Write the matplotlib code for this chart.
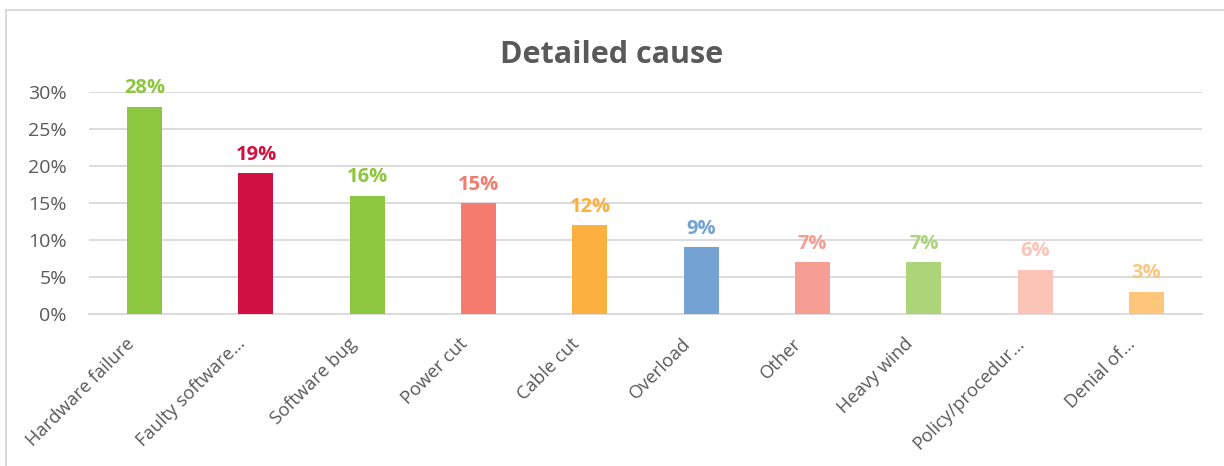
import matplotlib.pyplot as plt
from matplotlib.lines import Line2D
from matplotlib.ticker import PercentFormatter
from matplotlib.transforms import ScaledTranslation

# Share of incidents by detailed cause
causes = ["Hardware failure", "Faulty software…", "Software bug", "Power cut",
          "Cable cut", "Overload", "Other", "Heavy wind", "Policy/procedur…",
          "Denial of…"]
shares = [28, 19, 16, 15, 12, 9, 7, 7, 6, 3]
colors = ["#8DC63F", "#CE1141", "#8DC63F", "#F47B6E", "#FBB040",
          "#74A2D3", "#F79E94", "#AED47A", "#FBC4B7", "#FDC67A"]

plt.rcParams['font.family'] = ['Open Sans', 'DejaVu Sans']
grey = "#595959"
line_grey = "#D9D9D9"

fig = plt.figure(figsize=(12.24, 4.66), dpi=100)
ax = fig.add_axes([89 / 1224, 1 - 314 / 466, (1202 - 89) / 1224, (314 - 92) / 466])

x = range(len(causes))
ax.bar(x, shares, width=0.315, color=colors, zorder=3)

for xi, v, c in zip(x, shares, colors):
    ax.annotate(f"{v}%", (xi, v), xytext=(0, 6), textcoords="offset points",
                ha="center", va="bottom", color=c, fontsize=14.5,
                fontweight="bold", annotation_clip=False)

ax.set_xlim(-0.5, len(causes) - 0.5)
ax.set_ylim(0, 30)
ax.set_yticks(range(0, 31, 5))
ax.yaxis.set_major_formatter(PercentFormatter(decimals=0))
ax.grid(axis="y", color=line_grey, linewidth=1.3, zorder=0)
for s in ["top", "right", "left"]:
    ax.spines[s].set_visible(False)
ax.spines["bottom"].set_color(line_grey)
ax.spines["bottom"].set_linewidth(1.3)

ax.set_xticks(list(x))
ax.set_xticklabels(causes, rotation=45, ha="right", rotation_mode="default")
ax.tick_params(axis="x", length=0, pad=15, labelsize=13.2, labelcolor=grey)
ax.tick_params(axis="y", length=0, pad=16, labelsize=14, labelcolor=grey)
shift = ScaledTranslation(-7 / 100, 0, fig.dpi_scale_trans)
for lbl in ax.get_xticklabels():
    lbl.set_transform(lbl.get_transform() + shift)

fig.text(0.5, 1 - 55 / 466, "Detailed cause", ha="center", va="center",
         fontsize=22, fontweight="bold", color=grey)

# chart frame, top and left edges
fig.add_artist(Line2D([5.5 / 1224, 5.5 / 1224], [0, 1 - 10 / 466],
                      color=line_grey, linewidth=1.5))
fig.add_artist(Line2D([5.5 / 1224, 1], [1 - 10 / 466, 1 - 10 / 466],
                      color=line_grey, linewidth=1.5))

fig.savefig("out.png", dpi=100)
